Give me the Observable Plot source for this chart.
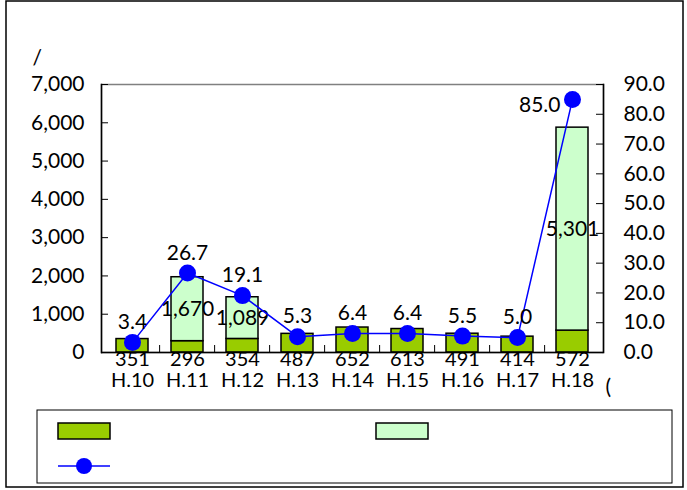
<!DOCTYPE html>
<html><head><meta charset="utf-8">
<script src="https://cdn.jsdelivr.net/npm/d3@7"></script>
<script src="https://cdn.jsdelivr.net/npm/@observablehq/plot@0.6"></script>
<style>body{margin:0;background:#fff}#chart svg{display:block}</style>
</head><body><div id="chart"></div>
<script>
const categories = ["H.10","H.11","H.12","H.13","H.14","H.15","H.16","H.17","H.18"];
const darkValues = [351,296,354,487,652,613,491,414,572];
const lightValues = [0,1670,1089,0,0,0,0,0,5301];
const rateValues = [3.4,26.7,19.1,5.3,6.4,6.4,5.5,5.0,85.0];
const leftTicks = [0,1000,2000,3000,4000,5000,6000,7000];
const rightTicks = [0,10,20,30,40,50,60,70,80,90];
const LEFT_MAX = 7000, RIGHT_MAX = 90;
const toLeft = v => v * LEFT_MAX / RIGHT_MAX;

const W = 687, H = 490, mL = 101, mR = 84, mT = 84, mB = 138;
const plotW = W - mL - mR, plotH = H - mT - mB;
const step = plotW / categories.length;
const FONT = "Lato, 'Noto Sans', sans-serif";

const rows = categories.flatMap((c, i) => [
  {cat: c, part: "dark", value: darkValues[i]},
  {cat: c, part: "light", value: lightValues[i]}
]).filter(d => d.value > 0);
const cats = categories.map((c, i) => ({cat: c, dark: darkValues[i], light: lightValues[i], rate: rateValues[i]}));
const lastCat = categories[categories.length - 1];

const plot = Plot.plot({
  width: W, height: H,
  marginLeft: mL, marginRight: mR, marginTop: mT, marginBottom: mB,
  style: {fontFamily: FONT, fontSize: "21px", color: "#000", background: "#fff"},
  x: {domain: categories, paddingInner: 0.42, paddingOuter: 0.21, axis: null},
  y: {domain: [0, LEFT_MAX], axis: null},
  color: {domain: ["dark", "light"], range: ["#99cc00", "#ccffcc"]},
  marks: [
    Plot.frame({stroke: "#808080", strokeWidth: 1.5}),
    Plot.barY(rows, {x: "cat", y: "value", fill: "part", stroke: "#000", strokeWidth: 1.5}),
    Plot.ruleY([0], {stroke: "#000", strokeWidth: 1.5}),
    Plot.frame({anchor: "left", stroke: "#000", strokeWidth: 1.5}),
    Plot.frame({anchor: "right", stroke: "#000", strokeWidth: 1.5}),
    Plot.tickY(leftTicks, {y: d => d, stroke: "#000", strokeWidth: 1, insetRight: plotW - 7}),
    Plot.tickY(rightTicks.map(toLeft), {y: d => d, stroke: "#000", strokeWidth: 1, insetLeft: plotW - 7}),
    Plot.tickX(categories.slice(1), {x: d => d, dx: -step / 2, stroke: "#000", strokeWidth: 1, insetTop: plotH - 7}),
    Plot.axisY(leftTicks, {anchor: "left", label: null, tickSize: 0, tickPadding: 17, tickFormat: d3.format(","), fontSize: 21, fill: "#000"}),
    Plot.axisY(rightTicks.map(toLeft), {anchor: "right", label: null, tickSize: 0, tickPadding: 20, tickFormat: d => (d * RIGHT_MAX / LEFT_MAX).toFixed(1), fontSize: 21, fill: "#000"}),
    Plot.text(cats, {x: "cat", text: d => String(d.dark), frameAnchor: "bottom", dy: 13, fontSize: 20, fill: "#000"}),
    Plot.text(cats, {x: "cat", text: "cat", frameAnchor: "bottom", dy: 34, fontSize: 20, fill: "#000"}),
    Plot.text(cats.filter(d => d.light > 0), {x: "cat", y: d => d.dark + d.light / 2, text: d => d3.format(",")(d.light), fill: "#000"}),
    Plot.line(cats, {x: "cat", y: d => toLeft(d.rate), stroke: "#0000ff", strokeWidth: 1.5}),
    Plot.dot(cats, {x: "cat", y: d => toLeft(d.rate), r: 8.5, fill: "#0000ff"}),
    Plot.text(cats.filter(d => d.cat !== lastCat), {x: "cat", y: d => toLeft(d.rate), text: d => d.rate.toFixed(1), dy: -20, fill: "#000"}),
    Plot.text(cats.filter(d => d.cat === lastCat), {x: "cat", y: d => toLeft(d.rate), text: d => d.rate.toFixed(1), dx: -12, dy: 6, textAnchor: "end", fill: "#000"}),
    Plot.text(["/"], {frameAnchor: "top-left", dx: -69, dy: -34, text: d => d, fill: "#000"}),
    Plot.text(["("], {frameAnchor: "bottom-right", dx: 2, dy: 41, textAnchor: "start", text: d => d, fill: "#000"})
  ]
});

const svg = d3.select(plot);
svg.insert("rect", ":first-child").attr("x", 6).attr("y", 1).attr("width", 677).attr("height", 486)
  .attr("fill", "#fff").attr("stroke", "#000").attr("stroke-width", 1.5);
const lg = svg.append("g");
lg.append("rect").attr("x", 37).attr("y", 410).attr("width", 635).attr("height", 73)
  .attr("fill", "none").attr("stroke", "#000").attr("stroke-width", 1);
lg.append("rect").attr("x", 58).attr("y", 423).attr("width", 52).attr("height", 16)
  .attr("fill", "#99cc00").attr("stroke", "#000").attr("stroke-width", 1.5);
lg.append("rect").attr("x", 376).attr("y", 423).attr("width", 52).attr("height", 16)
  .attr("fill", "#ccffcc").attr("stroke", "#000").attr("stroke-width", 1.5);
lg.append("line").attr("x1", 58).attr("x2", 110).attr("y1", 466).attr("y2", 466)
  .attr("stroke", "#0000ff").attr("stroke-width", 1.5);
lg.append("circle").attr("cx", 84).attr("cy", 466).attr("r", 8).attr("fill", "#0000ff");

document.getElementById("chart").appendChild(plot);
</script>
</body></html>
